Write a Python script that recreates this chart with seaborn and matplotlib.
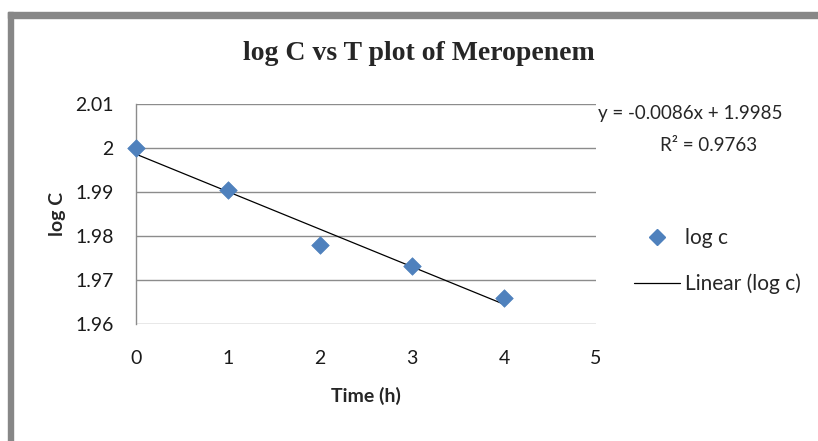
import numpy as np
import pandas as pd
import matplotlib
matplotlib.use("Agg")
import matplotlib.pyplot as plt
from matplotlib.patches import Rectangle
from matplotlib.lines import Line2D
import seaborn as sns

# ---- data ----
time_h = [0, 1, 2, 3, 4]
log_c = [2.000, 1.9905, 1.978, 1.9732, 1.966]
x_ticks = [0, 1, 2, 3, 4, 5]
x_tick_labels = ["0", "1", "2", "3", "4", "5"]
y_ticks = [1.96, 1.97, 1.98, 1.99, 2.00, 2.01]
y_tick_labels = ["1.96", "1.97", "1.98", "1.99", "2", "2.01"]
title = "log C vs T plot of Meropenem"
x_label = "Time (h)"
y_label = "log C"
series_label = "log c"
trend_label = "Linear (log c)"
eq_text = "y = -0.0086x + 1.9985"
r2_text = "R² = 0.9763"

df = pd.DataFrame({"time": time_h, "logc": log_c})

sns.set_theme(style="white")
plt.rcParams["font.family"] = ["Lato", "DejaVu Sans"]

W, H = 818, 441
fig = plt.figure(figsize=(W / 100, H / 100), dpi=100)
ax = fig.add_axes([136 / W, 1 - 324 / H, (596 - 136) / W, (324 - 104) / H])

blue = "#4F81BD"
sns.regplot(data=df, x="time", y="logc", scatter=False, ci=None, ax=ax,
            line_kws=dict(color="#000000", lw=0.9))
sns.scatterplot(data=df, x="time", y="logc", marker="D", s=80, color=blue,
                edgecolor=blue, linewidth=0.5, ax=ax, zorder=5, clip_on=False)

ax.set_xlim(0, 5)
ax.set_ylim(1.96, 2.01)
ax.set_xticks(x_ticks)
ax.set_xticklabels(x_tick_labels)
ax.set_yticks(y_ticks)
ax.set_yticklabels(y_tick_labels)
ax.tick_params(axis="both", length=0, labelsize=14, colors="#1a1a1a")
ax.tick_params(axis="x", pad=19)
ax.tick_params(axis="y", pad=16)
ax.grid(axis="y", color="#8c8c8c", lw=1)
ax.grid(axis="x", visible=False)
ax.set_axisbelow(True)
for side in ["top", "right", "bottom"]:
    ax.spines[side].set_visible(False)
ax.spines["left"].set_color("#8c8c8c")
ax.spines["left"].set_linewidth(1)

ax.set_xlabel(x_label, fontsize=14, fontweight="bold", labelpad=14)
ax.set_ylabel(y_label, fontsize=14, fontweight="bold")
ax.yaxis.set_label_coords(-0.152, 0.5)

fig.text(419 / W, 1 - 53 / H, title, ha="center", va="center",
         fontsize=20, fontweight="bold", family="Liberation Serif")

fig.text(690 / W, 1 - 113 / H, eq_text, ha="center", va="center", fontsize=13.5)
fig.text(709 / W, 1 - 145 / H, r2_text, ha="center", va="center", fontsize=13.5)

handles = [Line2D([], [], marker="D", ls="none", color=blue, markersize=8.5),
           Line2D([], [], color="black", lw=0.9)]
fig.legend(handles, [series_label, trend_label], loc="center left",
           bbox_to_anchor=(634 / W, 1 - 261 / H), frameon=False, fontsize=15,
           handlelength=2.2, handletextpad=0.25, labelspacing=1.2,
           borderaxespad=0, borderpad=0)

# outer frame (top and left gray bands)
fig.patches.append(Rectangle((8 / W, 1 - 18 / H), 1, 6 / H,
                             transform=fig.transFigure, color="#878787", zorder=0))
fig.patches.append(Rectangle((8 / W, 0), 5 / W, 1 - 12 / H,
                             transform=fig.transFigure, color="#878787", zorder=0))

fig.savefig("out.png", dpi=100)
